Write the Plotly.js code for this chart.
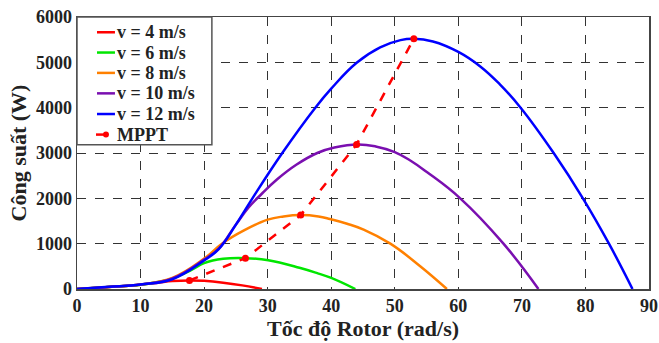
<!DOCTYPE html>
<html>
<head>
<meta charset="utf-8">
<script src="https://cdn.plot.ly/plotly-3.0.1.min.js"></script>
<style>html,body{margin:0;padding:0;background:#fff;}#chart{width:659px;height:343px;}</style>
</head>
<body>
<div id="chart"></div>
<script>
// Wind speed labels
const seriesNames = ["v = 4 m/s", "v = 6 m/s", "v = 8 m/s", "v = 10 m/s", "v = 12 m/s", "MPPT"];

// v = 4 m/s
const w4 = [0, 5, 10, 13, 15, 17.7, 20, 23, 26, 29.1];
const p4 = [0, 42, 92, 145, 175, 190, 180, 140, 80, 0];

// v = 6 m/s
const w6 = [0, 5, 10, 13, 15, 17.95, 20, 23, 26.5, 30.1, 35, 38, 40, 43.8];
const p6 = [0, 45, 95, 160, 230, 414, 570, 665, 680, 634, 467, 340, 246, 0];

// v = 8 m/s
const w8 = [0, 5, 10, 15, 20, 22.8, 26.2, 30, 32.5, 35.2, 38, 39.8, 42.5, 45.1, 49.3, 54, 58.2];
const p8 = [0, 45, 98, 245, 670, 1000, 1288, 1530, 1600, 1630, 1600, 1545, 1440, 1310, 1000, 502, 0];

// v = 10 m/s
const w10 = [0, 5, 10, 15, 20, 22.3, 25, 27, 29, 31.5, 34.5, 37.8, 40.5, 44.2, 47, 50, 52.5, 55.1, 60.3, 67.1, 72.6];
const p10 = [0, 45, 98, 235, 650, 890, 1420, 1800, 2090, 2420, 2740, 3000, 3120, 3190, 3145, 3020, 2830, 2575, 2000, 1000, 0];

// v = 12 m/s
const w12 = [0, 5, 10, 15, 20, 22.3, 25, 27.6, 32.3, 37.5, 40, 44, 47.7, 50.9, 53, 56, 60, 63.5, 66.5, 69.8, 75, 79.6, 83.7, 87.4];
const p12 = [0, 48, 100, 215, 630, 880, 1420, 2000, 3000, 4000, 4420, 4990, 5330, 5490, 5520, 5460, 5230, 4905, 4520, 4000, 3000, 2000, 1000, 0];

// MPPT points
const wMppt = [17.7, 26.5, 35.2, 44.0, 53.0];
const pMppt = [190, 680, 1630, 3190, 5520];

const xTicks = [0, 10, 20, 30, 40, 50, 60, 70, 80, 90];
const yTicks = [0, 1000, 2000, 3000, 4000, 5000, 6000];

const colors = ["#ff0000", "#00e600", "#ff8000", "#7a0fb0", "#0000ff", "#ff0000"];
const xs = [w4, w6, w8, w10, w12];
const ys = [p4, p6, p8, p10, p12];

const traces = xs.map((x, i) => ({
  x: x, y: ys[i], name: seriesNames[i], type: "scatter", mode: "lines",
  line: {color: colors[i], width: 2.5, shape: "spline", smoothing: 1.2}
}));
traces.push({
  x: wMppt, y: pMppt, name: seriesNames[5], type: "scatter", mode: "lines+markers",
  line: {color: colors[5], width: 2.5, dash: "dash"},
  marker: {color: colors[5], size: 7}
});

const font = {family: "Liberation Serif", weight: "bold", color: "#222"};

// Legend box built from shapes + annotations (paper coordinates of the plot area)
const W = 659, H = 343, mL = 77, mR = 9.5, mT = 17, mB = 53.5;
const pw = W - mL - mR, ph = H - mT - mB;
const px = v => (v - mL) / pw;
const py = v => 1 - (v - mT) / ph;
const legRowY = [32.3, 52.6, 73, 93.5, 114.2, 134.8];

const shapes = [{
  type: "rect", xref: "paper", yref: "paper", layer: "above",
  x0: px(77), x1: px(212), y0: py(145), y1: py(17),
  fillcolor: "#fff", line: {color: "#555", width: 1.5}
}];
const annotations = [];
seriesNames.forEach((name, i) => {
  const isMppt = i === 5;
  shapes.push({
    type: "line", xref: "paper", yref: "paper", layer: "above",
    x0: px(isMppt ? 96 : 97), x1: px(isMppt ? 111 : 115), y0: py(legRowY[i]), y1: py(legRowY[i]),
    line: {color: colors[i], width: 2.5, dash: isMppt ? "dash" : "solid"}
  });
  if (isMppt) {
    shapes.push({
      type: "circle", xref: "paper", yref: "paper", layer: "above",
      x0: px(103), x1: px(109), y0: py(legRowY[i] + 3), y1: py(legRowY[i] - 3),
      fillcolor: colors[i], line: {color: colors[i], width: 0}
    });
  }
  annotations.push({
    xref: "paper", yref: "paper", x: px(115), y: py(legRowY[i]),
    xanchor: "left", yanchor: "middle", showarrow: false,
    text: name, font: Object.assign({}, font, {size: 18})
  });
});

const layout = {
  width: W, height: H,
  margin: {l: mL, r: mR, t: mT, b: mB},
  paper_bgcolor: "#fff", plot_bgcolor: "#fff",
  showlegend: false,
  font: Object.assign({}, font, {size: 18}),
  shapes: shapes,
  annotations: annotations,
  xaxis: {
    range: [0, 90], tickvals: xTicks, ticktext: xTicks.map(String),
    showgrid: true, gridcolor: "#333", griddash: "dash", gridwidth: 1,
    zeroline: false, showline: true, linecolor: "#444", linewidth: 1.5, mirror: true,
    ticks: "", tickfont: Object.assign({}, font, {size: 18}),
    title: {text: "Tốc độ Rotor (rad/s)", font: Object.assign({}, font, {size: 22}), standoff: 1}
  },
  yaxis: {
    range: [0, 6000], tickvals: yTicks, ticktext: yTicks.map(String),
    showgrid: true, gridcolor: "#333", griddash: "dash", gridwidth: 1,
    zeroline: false, showline: true, linecolor: "#444", linewidth: 1.5, mirror: true,
    ticks: "", tickfont: Object.assign({}, font, {size: 18}),
    title: {text: "Công suất (W)", font: Object.assign({}, font, {size: 22}), standoff: 3}
  }
};

Plotly.newPlot("chart", traces, layout, {displayModeBar: false, staticPlot: true});
</script>
</body>
</html>
